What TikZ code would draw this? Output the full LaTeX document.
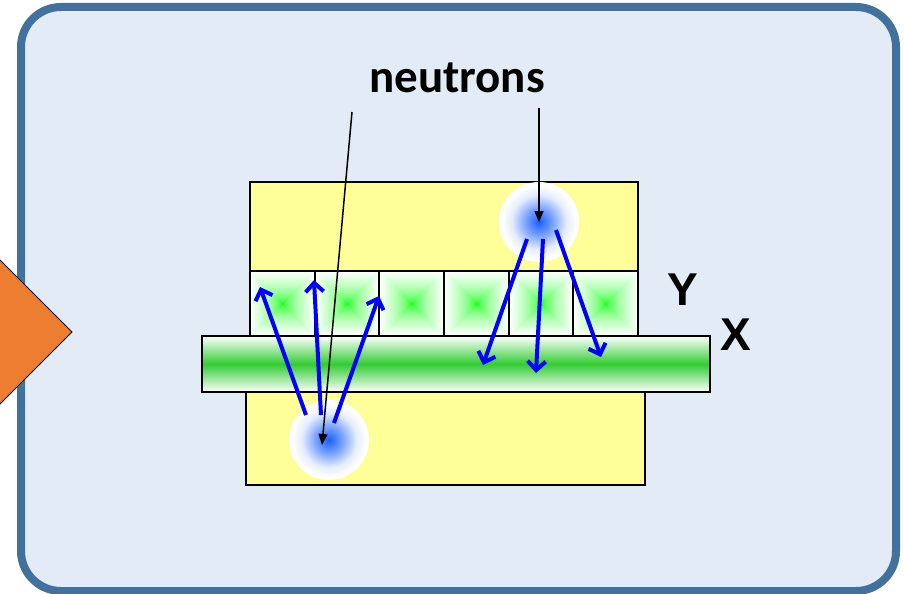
\documentclass[tikz,border=0pt]{standalone}
\usepackage{fontspec}
\usetikzlibrary{arrows.meta}
\newfontfamily\labelfont{Carlito}
\newfontfamily\axisfont{Liberation Sans}
\definecolor{panelfill}{RGB}{226,235,246}
\definecolor{panelline}{RGB}{65,113,156}
\definecolor{slabyellow}{RGB}{255,255,153}
\definecolor{markorange}{RGB}{237,125,49}
\definecolor{xgreen}{RGB}{51,204,51}
\definecolor{blobblue}{RGB}{25,95,255}
\pgfdeclarefunctionalshading{cellglow}{\pgfpoint{-50bp}{-50bp}}{\pgfpoint{50bp}{50bp}}{}{
  abs exch abs 2 copy lt {exch} if pop 25 div dup 1 gt {pop 1} if sqrt
  dup 1 exch
}
\pgfdeclareradialshading{blobglow}{\pgfpoint{0bp}{0bp}}{color(0bp)=(blobblue);
  color(9bp)=(blobblue!55!white); color(17bp)=(blobblue!12!white); color(23bp)=(white);
  color(50bp)=(white)}

\begin{document}
\begin{tikzpicture}[x=1pt, y=-1pt, >={Triangle[length=11pt,width=9pt]},
  slab/.style={draw, line width=2pt, inner sep=0pt, anchor=north west},
  blob/.style={circle, minimum size=80pt, inner sep=0pt, shading=blobglow},
  ray/.style={draw=blue, line width=4pt, -{Straight Barb[length=9pt,width=18pt]}},
  pointer/.style={draw=black, line width=1.5pt, ->},
  axis/.style={font=\axisfont\bfseries\fontsize{46}{56}\selectfont}]
	\useasboundingbox (0,0) rectangle (905,594);
	\draw[line width=8pt, draw=panelline, fill=panelfill, rounded corners=40pt] (21,7) rectangle (896,591);
	\draw[fill=markorange, line width=1pt] (-10,250) -- (72,332) -- (-10,414) -- cycle;
	\node[slab, fill=slabyellow, minimum width=388, minimum height=89] (upper) at (249,181) {};
	\foreach \i in {0,...,5}
		\node[slab, shading=cellglow, minimum width=64.67, minimum height=65] (cell\i) at (249+\i*64.67,270) {};
	\node[slab, fill=slabyellow, minimum width=399, minimum height=93] (lower) at (245,391) {};
	\node[slab, top color=white, bottom color=white, middle color=xgreen, minimum width=508, minimum height=56] (xbar) at (201,335) {};
	\node[blob] (nup) at (539,222) {};
	\node[blob] (nlow) at (329,440) {};
	\foreach \xa/\ya/\xb/\yb [count=\k] in {527/239/483/365, 543/239/536/373, 556/230/601/357,
			306/415/260/287, 321/415/314/280, 334/423/379/296} {
		\coordinate (ray\k-a) at (\xa,\ya);
		\coordinate (ray\k-b) at (\xb,\yb);
		\draw[ray] (ray\k-a) -- (ray\k-b);
	}
	\node[font=\labelfont\bfseries\fontsize{47}{56}\selectfont] (lbl) at (457,78) {neutrons};
	\coordinate (lblleft) at (352,112);
	\coordinate (hitlow) at (322,445);
	\coordinate (lblright) at (539,108);
	\draw[pointer] (lblleft) -- (hitlow);
	\draw[pointer] (lblright) -- (nup.center);
	\node[axis] (ylbl) at (683,290) {Y};
	\node[axis] (xlbl) at (736,335) {X};
\end{tikzpicture}
\end{document}
